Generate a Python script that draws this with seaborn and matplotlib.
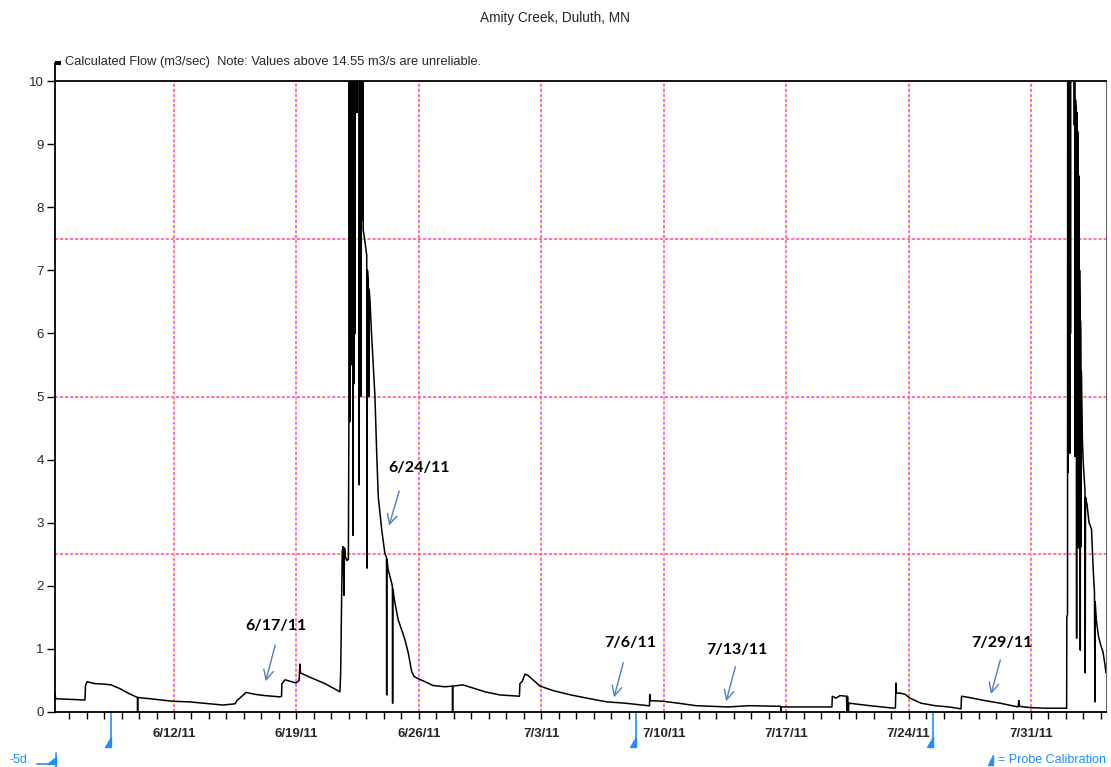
import numpy as np
import pandas as pd
import matplotlib
matplotlib.use("Agg")
import matplotlib.pyplot as plt
import matplotlib.dates as mdates
import matplotlib.transforms as mtransforms
from matplotlib.lines import Line2D
from matplotlib.patches import Polygon
import seaborn as sns

# ---------------- data ----------------
START = "2011-06-05"
# time in days since START, flow in m3/s
day_offsets = [
    0.20, 0.23, 1.05, 1.91, 1.94, 2.03, 2.48, 3.05, 3.40, 3.91, 4.37, 4.83, 4.91, 4.92, 4.93,
    5.63, 6.94, 7.91, 9.06, 9.80, 10.49, 10.60, 11.12, 11.63, 12.20, 13.06, 13.15, 13.17,
    13.35, 13.98, 14.15, 14.20, 14.23, 14.78, 15.63, 16.49,
    16.53, 16.59, 16.62, 16.66, 16.69, 16.72, 16.75, 16.81, 16.89, 16.97, 17.00, 17.02, 17.05,
    17.07, 17.10, 17.13, 17.17, 17.20, 17.23, 17.26, 17.29, 17.32, 17.35, 17.37, 17.45, 17.46,
    17.47, 17.58, 17.59, 17.62, 17.65, 17.68, 17.70, 17.73, 17.77, 17.80, 17.82, 17.92, 18.02,
    18.04, 18.06, 18.11, 18.14, 18.16, 18.21, 18.30, 18.40, 18.49, 18.59, 18.68, 18.88, 19.06,
    19.15, 19.16, 19.17, 19.25, 19.45, 19.49, 19.50, 19.51, 19.64, 19.82, 20.02, 20.21, 20.40,
    20.59, 20.74,
    20.95, 21.35, 21.81, 22.49, 22.92, 22.93, 22.94, 23.52, 24.10, 24.78, 25.64, 26.21, 26.75,
    26.78, 26.90, 27.07, 27.24, 27.93, 28.67, 29.70, 30.79, 31.76, 32.79, 34.10, 34.19, 34.20,
    34.23, 34.96, 35.82, 36.85, 38.68, 39.88, 41.69, 41.70, 41.71, 42.79, 44.62, 44.64, 44.85,
    45.08, 45.45, 45.48, 45.51, 45.56, 45.59, 46.79, 48.17, 48.25, 48.28, 48.31, 48.51, 48.80,
    49.08, 49.71, 50.51, 51.31, 52.00, 52.03, 52.46, 53.37, 54.23, 55.26, 55.31, 55.34, 55.94,
    56.80, 58.04,
    58.05, 58.09, 58.10, 58.12, 58.13, 58.15, 58.17, 58.19, 58.20, 58.22, 58.24, 58.26, 58.28,
    58.46, 58.48, 58.49, 58.51, 58.52, 58.53, 58.54, 58.55, 58.56, 58.57, 58.59, 58.60, 58.61,
    58.62, 58.64, 58.65, 58.66, 58.67, 58.69, 58.70, 58.72, 58.73, 58.74, 58.75, 58.77, 58.78,
    58.80, 58.81, 58.82, 58.83, 58.84, 58.86, 58.87, 58.88, 58.90, 58.94, 59.00, 59.09, 59.10,
    59.12, 59.20, 59.32, 59.46, 59.56, 59.63, 59.66, 59.67, 59.74, 59.86, 60.00, 60.12, 60.23,
    60.29,
]
flow = [
    0.30, 0.21, 0.20, 0.19, 0.42, 0.48, 0.45, 0.44, 0.43, 0.37, 0.30, 0.24, 0.23, 0.00, 0.23,
    0.21, 0.17, 0.16, 0.13, 0.11, 0.13, 0.18, 0.31, 0.28, 0.26, 0.24, 0.25, 0.45,
    0.51, 0.46, 0.50, 0.76, 0.62, 0.55, 0.45, 0.32,
    0.62, 1.83, 2.55, 2.62, 2.30, 1.85, 2.60, 2.45, 2.40, 2.42, 4.60, 13.0, 4.60,
    13.0, 6.00, 13.0, 5.50, 13.0, 2.80, 13.0, 5.20, 13.0, 6.00, 14.0, 14.0, 9.50,
    14.0, 14.0, 3.60, 13.0, 7.60, 13.0, 5.00, 13.0, 7.80, 13.0, 7.64, 7.45, 7.24,
    2.28, 7.00, 6.82, 5.00, 6.70, 6.50, 5.97, 5.45, 5.00, 4.10, 3.41, 2.88, 2.51,
    2.45, 0.27, 2.42, 2.25, 2.04, 1.98, 0.14, 1.95, 1.72, 1.46, 1.30, 1.14, 0.93,
    0.64, 0.56,
    0.53, 0.48, 0.42, 0.40, 0.41, 0.00, 0.41, 0.43, 0.38, 0.32, 0.27, 0.26, 0.25,
    0.45, 0.48, 0.60, 0.58, 0.41, 0.34, 0.27, 0.21, 0.16, 0.14, 0.10, 0.10, 0.28,
    0.18, 0.17, 0.14, 0.10, 0.08, 0.10, 0.09, 0.00, 0.08, 0.08, 0.08, 0.25, 0.22,
    0.26, 0.25, 0.00, 0.25, 0.00, 0.14, 0.10, 0.06, 0.07, 0.46, 0.30, 0.30, 0.28,
    0.22, 0.14, 0.10, 0.08, 0.05, 0.25, 0.23, 0.18, 0.14, 0.08, 0.18, 0.09, 0.07,
    0.06, 0.06,
    1.50, 1.55, 12.0, 4.50, 3.80, 12.0, 5.20, 12.0, 6.50, 4.10, 12.0, 6.00, 13.0,
    13.0, 9.30, 13.0, 9.70, 4.05, 9.70, 4.60, 9.70, 5.00, 9.60, 9.60, 4.80, 1.17,
    9.50, 9.50, 4.90, 3.00, 9.20, 9.00, 4.70, 2.60, 8.50, 7.83, 4.80, 3.00, 7.00,
    6.45, 4.70, 0.98, 6.20, 6.00, 4.60, 2.62, 5.40, 5.00, 4.30, 3.90, 3.50, 0.62,
    3.40, 3.30, 3.00, 2.90, 2.25, 1.90, 0.16, 1.75, 1.45, 1.20, 1.05, 0.95, 0.75,
    0.62,
]

x_range_days = [0.196, 60.29]
y_range = [0, 10]
y_ticks = list(range(0, 11))
h_grid = [2.5, 5.0, 7.5]
week_ticks = ["2011-06-12", "2011-06-19", "2011-06-26", "2011-07-03",
              "2011-07-10", "2011-07-17", "2011-07-24", "2011-07-31"]
week_labels = ["6/12/11", "6/19/11", "6/26/11", "7/3/11",
               "7/10/11", "7/17/11", "7/24/11", "7/31/11"]
calib_days = [3.40, 33.42, 50.37]

annot_labels = ["6/17/11", "6/24/11", "7/6/11", "7/13/11", "7/29/11"]
annot_text_pos = [(12.83, 1.355), (21.01, 3.867), (33.07, 1.089), (39.19, 0.983), (54.34, 1.094)]
annot_tail = [(12.83, 1.104), (19.92, 3.545), (32.73, 0.824), (39.14, 0.761), (54.29, 0.867)]
annot_head = [(12.20, 0.444), (19.25, 2.911), (32.12, 0.190), (38.53, 0.127), (53.67, 0.242)]

title = "Amity Creek, Duluth, MN"
header = "Calculated Flow (m3/sec)  Note: Values above 14.55 m3/s are unreliable."

# ---------------- style ----------------
sns.set_style("ticks")
plt.rcParams["font.family"] = ["Liberation Sans", "DejaVu Sans"]

W, H = 1111, 767
fig = plt.figure(figsize=(W / 100, H / 100), dpi=100)
ax = fig.add_axes([55 / W, (H - 712) / H, (1106 - 55) / W, (712 - 81) / H])

base = pd.Timestamp(START)
df = pd.DataFrame({
    "time": base + pd.to_timedelta(day_offsets, unit="D"),
    "flow": flow,
})

def T(d):
    return mdates.date2num(base + pd.Timedelta(days=d))

# gridlines (dotted magenta / yellow)
glw = 1.1
mag_on, yel_on = 1.85, 1.45
for wd in pd.to_datetime(week_ticks):
    ax.axvline(wd, color="#ffff33", lw=glw, ls=(mag_on, (yel_on, mag_on)), zorder=1)
    ax.axvline(wd, color="#ff33ff", lw=glw, ls=(0, (mag_on, yel_on)), zorder=1)
for hv in h_grid:
    ax.axhline(hv, color="#ffff33", lw=glw, ls=(mag_on, (yel_on, mag_on)), zorder=1)
    ax.axhline(hv, color="#ff33ff", lw=glw, ls=(0, (mag_on, yel_on)), zorder=1)

sns.lineplot(data=df, x="time", y="flow", ax=ax, color="black", lw=1.1,
             estimator=None, sort=False, zorder=3)

ax.set_xlim(T(x_range_days[0]), T(x_range_days[1]))
ax.set_ylim(*y_range)
ax.set_xlabel("")
ax.set_ylabel("")

ax.set_yticks(y_ticks)
ax.set_yticklabels([str(v) for v in y_ticks], fontsize=9.5)
ax.set_xticks(pd.to_datetime(week_ticks))
ax.set_xticklabels(week_labels, fontsize=9.5, fontweight="bold")
ax.xaxis.set_minor_locator(mdates.DayLocator())
ax.tick_params(axis="x", which="both", direction="out", length=5, width=1,
               color="black", pad=6.5, bottom=True, top=False)
ax.tick_params(axis="y", which="major", direction="out", length=6, width=1,
               color="black", pad=2, left=True, right=False)

for side in ["left", "bottom", "top"]:
    ax.spines[side].set_color("black")
    ax.spines[side].set_linewidth(1.3)
ax.spines["right"].set_color("#666666")
ax.spines["right"].set_linewidth(0.8)

# left axis extension + legend-like marker
top_ext = (712 - 63) / (712 - 81)
ax.plot([0, 0], [1, top_ext], transform=ax.transAxes, color="black", lw=1.3, clip_on=False)
ax.plot([0, 6 / 1051], [top_ext, top_ext], transform=ax.transAxes, color="black",
        lw=3, clip_on=False, solid_capstyle="butt")

fig.text(0.5, 1 - 18 / H, title, ha="center", va="center", fontsize=9.8)
fig.text(65 / W, 1 - 62 / H, header, ha="left", va="center", fontsize=9.3)

# annotations
arrow_col = "#4f81bd"
for lab, tp, tl, hd in zip(annot_labels, annot_text_pos, annot_tail, annot_head):
    ax.text(T(tp[0]), tp[1], lab, ha="center", va="center", fontsize=11.5,
            fontweight="bold", family=["Lato", "DejaVu Sans"], color="black", zorder=5)
    ax.annotate("", xy=(T(hd[0]), hd[1]), xytext=(T(tl[0]), tl[1]),
                arrowprops=dict(arrowstyle="->,head_length=0.7,head_width=0.35",
                                color=arrow_col, lw=1.0), zorder=5)

# probe calibration markers
blue = "#1e8fff"
trans = mtransforms.blended_transform_factory(ax.transData, ax.transAxes)
px_day = 1 / 17.49
for cd in calib_days:
    xn = T(cd)
    ax.plot([xn, xn], [0, -0.046], transform=trans, color=blue, lw=1.2, clip_on=False)
    tri = Polygon([[xn, -0.040], [xn, -0.055], [xn - 6 * px_day, -0.055]],
                  closed=True, transform=trans, color=blue, clip_on=False)
    ax.add_patch(tri)

# bottom-left "-5d." marker
fig.text(9 / W, 1 - 760 / H, "-5d.", color=blue, fontsize=9, ha="left", va="center")
fig.add_artist(Line2D([37 / W, 56 / W], [1 - 764 / H, 1 - 764 / H], color=blue, lw=1.2,
                      transform=fig.transFigure))
fig.add_artist(Line2D([56 / W, 56 / W], [1 - 753 / H, 1 - 767 / H], color=blue, lw=1.2,
                      transform=fig.transFigure))
fig.add_artist(Polygon([[47 / W, 1 - 764 / H], [56 / W, 1 - 764 / H], [56 / W, 1 - 757 / H]],
                       closed=True, color=blue, transform=fig.transFigure))

# bottom-right legend
fig.add_artist(Polygon([[988 / W, 1 - 765 / H], [993 / W, 1 - 765 / H], [993 / W, 1 - 755 / H]],
                       closed=True, color=blue, transform=fig.transFigure))
fig.text(1106 / W, 1 - 760 / H, "= Probe Calibration", color=blue, fontsize=9,
         ha="right", va="center")

fig.savefig("out.png", dpi=100)
